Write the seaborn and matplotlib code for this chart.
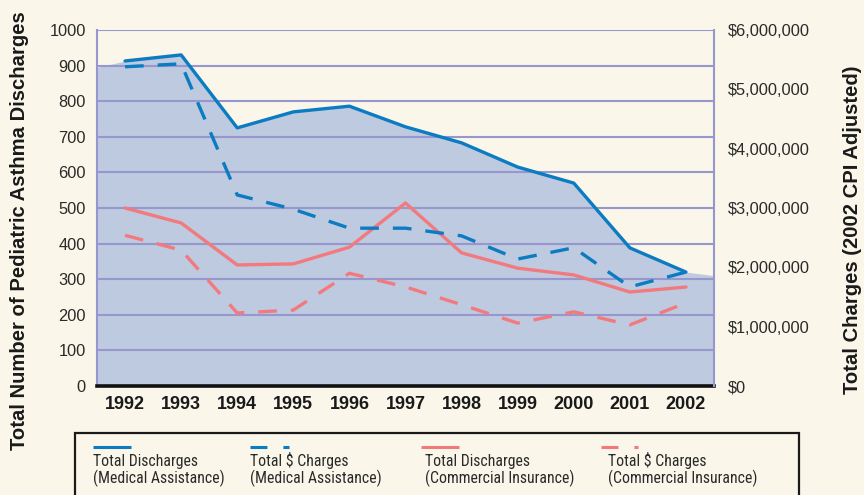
# Pediatric asthma discharges and charges, 1992-2002
import numpy as np
import pandas as pd
import matplotlib
matplotlib.use('Agg')
import matplotlib.pyplot as plt
import seaborn as sns
from matplotlib import font_manager
from matplotlib.lines import Line2D
from matplotlib.patches import Rectangle
from matplotlib.ticker import FuncFormatter

years = list(range(1992, 2003))
ma_discharges = [913, 930, 725, 770, 786, 728, 683, 615, 570, 388, 320]
ma_charges = [5380000, 5430000, 3220000, 2980000, 2660000, 2660000, 2530000, 2140000, 2330000, 1670000, 1920000]
ci_discharges = [500, 458, 340, 343, 390, 514, 374, 331, 312, 264, 278]
ci_charges = [2540000, 2290000, 1230000, 1280000, 1900000, 1670000, 1370000, 1060000, 1250000, 1030000, 1400000]

# decorative backdrop shape, left and right edge heights (discharge scale)
backdrop_left = 895
backdrop_right = 310

left_ticks = list(range(0, 1001, 100))
right_ticks = [0, 1000000, 2000000, 3000000, 4000000, 5000000, 6000000]

legend_labels = [('Total Discharges', '(Medical Assistance)'),
                 ('Total $ Charges', '(Medical Assistance)'),
                 ('Total Discharges', '(Commercial Insurance)'),
                 ('Total $ Charges', '(Commercial Insurance)')]

BG = '#FAF6E9'
BLUE = '#0B7BC2'
PINK = '#F27A7E'
GRID = '#9797CF'
AREA = '#BECADF'

sns.set_style('white')
plt.rcParams['font.family'] = ['Liberation Sans', 'DejaVu Sans']

# pick a narrow face for the legend text if one is installed
installed = {(f.name, f.stretch) for f in font_manager.fontManager.ttflist}
names = {n for n, s in installed}
legend_font = dict(family=['Liberation Sans', 'DejaVu Sans'], fontsize=10.3)
sizes = {'Roboto Condensed': 11.3, 'Liberation Sans Narrow': 11.8, 'Open Sans Condensed': 11.0}
for cand in ['Roboto Condensed', 'Liberation Sans Narrow', 'Open Sans Condensed']:
    if cand in names:
        legend_font = dict(family=[cand, 'DejaVu Sans'], fontsize=sizes[cand])
        break
else:
    if any(n == 'DejaVu Sans' and s == 'condensed' for n, s in installed):
        legend_font = dict(family=['DejaVu Sans'], fontstretch='condensed', fontsize=9.7)

fig = plt.figure(figsize=(8.64, 4.95), dpi=100, facecolor=BG)
W, H = 864, 495
ax = fig.add_axes([97 / W, 1 - 386 / H, (714 - 97) / W, (386 - 30) / H])
ax.set_facecolor(BG)

# backdrop
area_x = [1991.5] + years + [2002.5]
area_y = [backdrop_left] + ma_discharges + [backdrop_right]
ax.fill_between(area_x, 0, area_y, color=AREA, lw=0, zorder=0.3)

ax.set_axisbelow(True)
ax.yaxis.grid(True, color=GRID, lw=1.5)
ax.xaxis.grid(False)

lw = 2.4
dash = (0, (5.6, 4.2))
sns.lineplot(x=years, y=ma_discharges, ax=ax, color=BLUE, lw=lw, zorder=3)
sns.lineplot(x=years, y=ci_discharges, ax=ax, color=PINK, lw=lw, zorder=3)

ax.set_xlim(1991.5, 2002.5)
ax.set_ylim(0, 1000)
ax.set_yticks(left_ticks)
ax.set_xticks(years)
ax.set_xticklabels([str(y) for y in years], fontsize=13, fontweight='bold', color='#1a1a1a')
ax.tick_params(axis='y', length=0, pad=8, labelsize=11.8, labelcolor='#2a2a2a')
ax.tick_params(axis='x', length=0, pad=7)
ax.set_xlabel('')
ax.set_ylabel('')

ax2 = ax.twinx()
sns.lineplot(x=years, y=ma_charges, ax=ax2, color=BLUE, lw=lw, linestyle=dash)
sns.lineplot(x=years, y=ci_charges, ax=ax2, color=PINK, lw=lw, linestyle=dash)
ax2.set_ylim(0, 6000000)
ax2.set_yticks(right_ticks)
ax2.yaxis.set_major_formatter(FuncFormatter(lambda v, p: '${:,.0f}'.format(v)))
ax2.tick_params(axis='y', length=0, pad=10, labelsize=11.8, labelcolor='#2a2a2a')
ax2.set_ylabel('')
ax2.grid(False)

for a in (ax, ax2):
    for s in a.spines.values():
        s.set_visible(False)
ax.spines['left'].set_visible(True)
ax.spines['left'].set_color(GRID)
ax.spines['left'].set_linewidth(1.5)
ax.spines['bottom'].set_visible(True)
ax.spines['bottom'].set_color('#111111')
ax.spines['bottom'].set_linewidth(2.6)
ax2.spines['right'].set_visible(True)
ax2.spines['right'].set_color(GRID)
ax2.spines['right'].set_linewidth(1.5)

# axis titles
fig.text(20 / W, 1 - 231 / H, 'Total Number of Pediatric Asthma Discharges', rotation=90,
         ha='center', va='center', fontsize=14.6, fontweight='bold', color='#1a1a1a')
fig.text(852 / W, 1 - 230 / H, 'Total Charges (2002 CPI Adjusted)', rotation=90,
         ha='center', va='center', fontsize=14.6, fontweight='bold', color='#1a1a1a')

# legend box
fig.add_artist(Rectangle((75 / W, -0.05), (799 - 75) / W, 0.05 + 1 - 433 / H,
                         transform=fig.transFigure, facecolor=BG, edgecolor='#1a1a1a',
                         lw=1.6, clip_on=False))
hy = 1 - 447 / H
handles = [(93, 131, BLUE, '-'), (250, 289, BLUE, 'd'),
           (421, 459, PINK, '-'), (601, 638, PINK, 'd')]
text_x = [93, 250, 425, 608]
for (x0, x1, c, st), tx, (line1, line2) in zip(handles, text_x, legend_labels):
    ls = '-' if st == '-' else (0, (12.2 / 2.2, 11.5 / 2.2))
    fig.add_artist(Line2D([x0 / W, x1 / W], [hy, hy], transform=fig.transFigure,
                          color=c, lw=2.2, linestyle=ls, solid_capstyle='butt',
                          dash_capstyle='butt'))
    fig.text(tx / W, 1 - 466 / H, line1, ha='left', va='baseline', color='#2a2a2a', **legend_font)
    fig.text(tx / W, 1 - 483 / H, line2, ha='left', va='baseline', color='#2a2a2a', **legend_font)

fig.savefig('out.png', dpi=100, facecolor=BG)
